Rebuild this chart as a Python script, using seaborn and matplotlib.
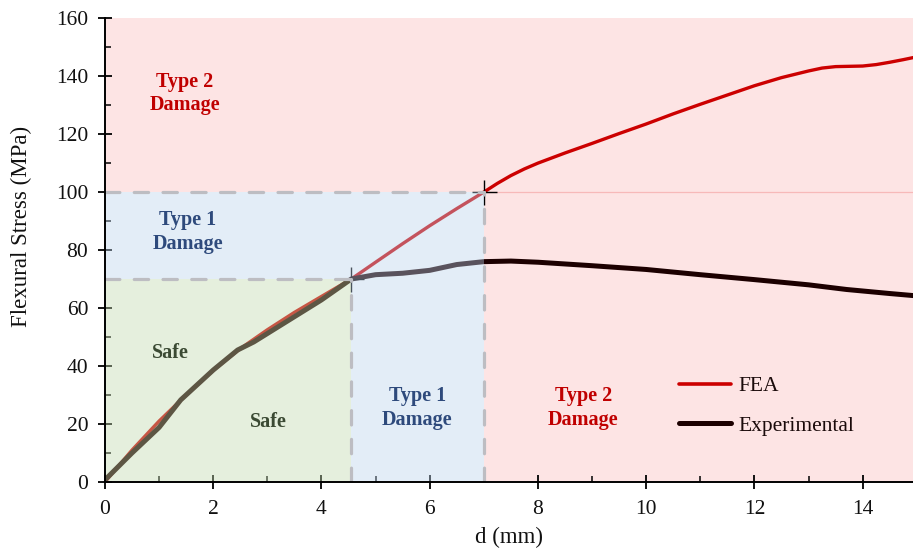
import matplotlib
matplotlib.use("Agg")
import matplotlib.pyplot as plt
import seaborn as sns
import pandas as pd
from matplotlib.lines import Line2D
from matplotlib.patches import Rectangle

# ---- data ----
fea_d = [0, 0.5, 1, 1.5, 2, 2.5, 3, 3.5, 4, 4.55, 5, 5.5, 6, 6.5, 7, 7.25, 7.5,
         7.75, 8, 8.5, 9, 9.5, 10, 10.5, 11, 11.5, 12, 12.5, 13, 13.25, 13.5,
         13.75, 14, 14.25, 14.5, 14.75, 14.93]
fea_s = [0, 11, 21, 30, 38.5, 46, 52.5, 58.5, 64, 70, 75.8, 82.2, 88.4, 94.3,
         100, 103, 105.7, 108, 110, 113.5, 116.8, 120.2, 123.5, 127, 130.3,
         133.5, 136.7, 139.5, 141.8, 142.8, 143.3, 143.4, 143.5, 144, 144.8,
         145.7, 146.4]
exp_d = [0, 0.5, 1, 1.4, 2, 2.45, 2.75, 3.25, 4, 4.55, 5, 5.5, 6, 6.5, 7, 7.5,
         8, 9, 10, 11, 12, 13, 13.7, 14.5, 14.93]
exp_s = [0.7, 10, 18.8, 28.3, 38.6, 45.5, 48.3, 54.1, 62.8, 70, 71.5, 72, 73,
         75, 76, 76.2, 75.8, 74.6, 73.3, 71.5, 69.8, 68, 66.4, 65, 64.3]

series_names = ["FEA", "Experimental"]
safe_limit = (4.55, 70)     # (d, stress)
type1_limit = (7, 100)
xticks = [0, 2, 4, 6, 8, 10, 12, 14]
yticks = [0, 20, 40, 60, 80, 100, 120, 140, 160]

df_fea = pd.DataFrame({"d": fea_d, "s": fea_s})
df_exp = pd.DataFrame({"d": exp_d, "s": exp_s})

sns.set_theme(style="ticks")
plt.rcParams["font.family"] = ["Liberation Serif", "DejaVu Serif"]

fig = plt.figure(figsize=(9.13, 5.52), dpi=100)
ax = fig.add_axes([0.115, 0.127, 0.885, 0.840])

pink = "#fde4e4"
ax.set_facecolor(pink)
xmax, ymax = 14.93, 160
ax.set_xlim(0, xmax)
ax.set_ylim(0, ymax)

sx, sy = safe_limit
tx, ty = type1_limit

# white base under the translucent zones
for (x0, y0, w, h) in [(0, 0, sx, sy), (0, sy, tx, ty - sy), (sx, 0, tx - sx, sy)]:
    ax.add_patch(Rectangle((x0, y0), w, h, facecolor="white", edgecolor="none", zorder=0.5))

# faint pink line at y=100 to the right
ax.plot([tx, xmax], [ty, ty], color="#f7b9b9", lw=0.9, zorder=0.8)

fea_col = "#cc0000"
exp_col = "#1c0000"
sns.lineplot(data=df_fea, x="d", y="s", ax=ax, color=fea_col, lw=2.4,
             sort=False, estimator=None, zorder=2, legend=False)
sns.lineplot(data=df_exp, x="d", y="s", ax=ax, color=exp_col, lw=3.6,
             sort=False, estimator=None, zorder=2.1, legend=False)

# crosshair markers at limits
ax.plot([sx, tx], [sy, ty], ls="none", marker="+", ms=18, mew=1.0,
        color="black", zorder=2.5)

# translucent overlays on top of the lines
blue = (185 / 255, 210 / 255, 235 / 255)
green = (192 / 255, 217 / 255, 172 / 255)
ax.add_patch(Rectangle((0, 0), sx, sy, facecolor=green, alpha=0.4, edgecolor="none", zorder=3))
ax.add_patch(Rectangle((0, sy), tx, ty - sy, facecolor=blue, alpha=0.4, edgecolor="none", zorder=3))
ax.add_patch(Rectangle((sx, 0), tx - sx, sy, facecolor=blue, alpha=0.4, edgecolor="none", zorder=3))

# dashed grey boundaries
dkw = dict(color="#bdbdc2", lw=2.3, dashes=(4.5, 4.5), dash_capstyle="round", zorder=3.5)
ax.plot([0, tx], [ty, ty], **dkw)
ax.plot([0, sx], [sy, sy], **dkw)
ax.plot([sx, sx], [0, sy], **dkw)
ax.plot([tx, tx], [0, ty], **dkw)

# zone labels
red_t = "#c00000"
blue_t = "#2e4a7c"
green_t = "#3b4a33"
tkw = dict(ha="center", va="center", fontsize=14.5, fontweight="bold", zorder=5,
           linespacing=1.25)
ax.text(1.48, 134, "Type 2\nDamage", color=red_t, **tkw)
ax.text(1.53, 86.2, "Type 1\nDamage", color=blue_t, **tkw)
ax.text(1.2, 44.5, "Safe", color=green_t, **tkw)
ax.text(3.01, 20.7, "Safe", color=green_t, **tkw)
ax.text(5.77, 25.5, "Type 1\nDamage", color=blue_t, **tkw)
ax.text(8.84, 25.5, "Type 2\nDamage", color=red_t, **tkw)

# axes styling
ax.set_xticks(xticks)
ax.set_yticks(yticks)
ax.set_xticks([1, 3, 5, 7, 9, 11, 13], minor=True)
ax.set_yticks([10, 30, 50, 70, 90, 110, 130, 150], minor=True)
ax.tick_params(axis="both", which="major", direction="inout", length=10, width=1.3,
               labelsize=15.5, color="black", labelcolor="#111111")
ax.tick_params(axis="x", which="major", pad=8)
ax.tick_params(axis="y", which="major", pad=7)
ax.tick_params(axis="both", which="minor", direction="in", length=4.5, width=1.1, color="black")
for side in ["top", "right"]:
    ax.spines[side].set_visible(False)
for side in ["left", "bottom"]:
    ax.spines[side].set_color("black")
    ax.spines[side].set_linewidth(1.4)
    ax.spines[side].set_zorder(6)
ax.set_xlabel("d (mm)", fontsize=16.5, color="#111111", labelpad=6)
ax.set_ylabel("Flexural Stress (MPa)", fontsize=16.5, color="#111111")
ax.yaxis.set_label_coords(-0.09, 0.55)

handles = [Line2D([], [], color=fea_col, lw=2.6), Line2D([], [], color=exp_col, lw=3.6)]
leg = ax.legend(handles, series_names, loc="upper left", bbox_to_anchor=(0.687, 0.27),
                frameon=False, fontsize=15.5, handlelength=2.4, handletextpad=0.35,
                labelspacing=0.9)
leg.set_zorder(7)
for t in leg.get_texts():
    t.set_color("#1a0a0a")

fig.savefig("out.png", dpi=100)
